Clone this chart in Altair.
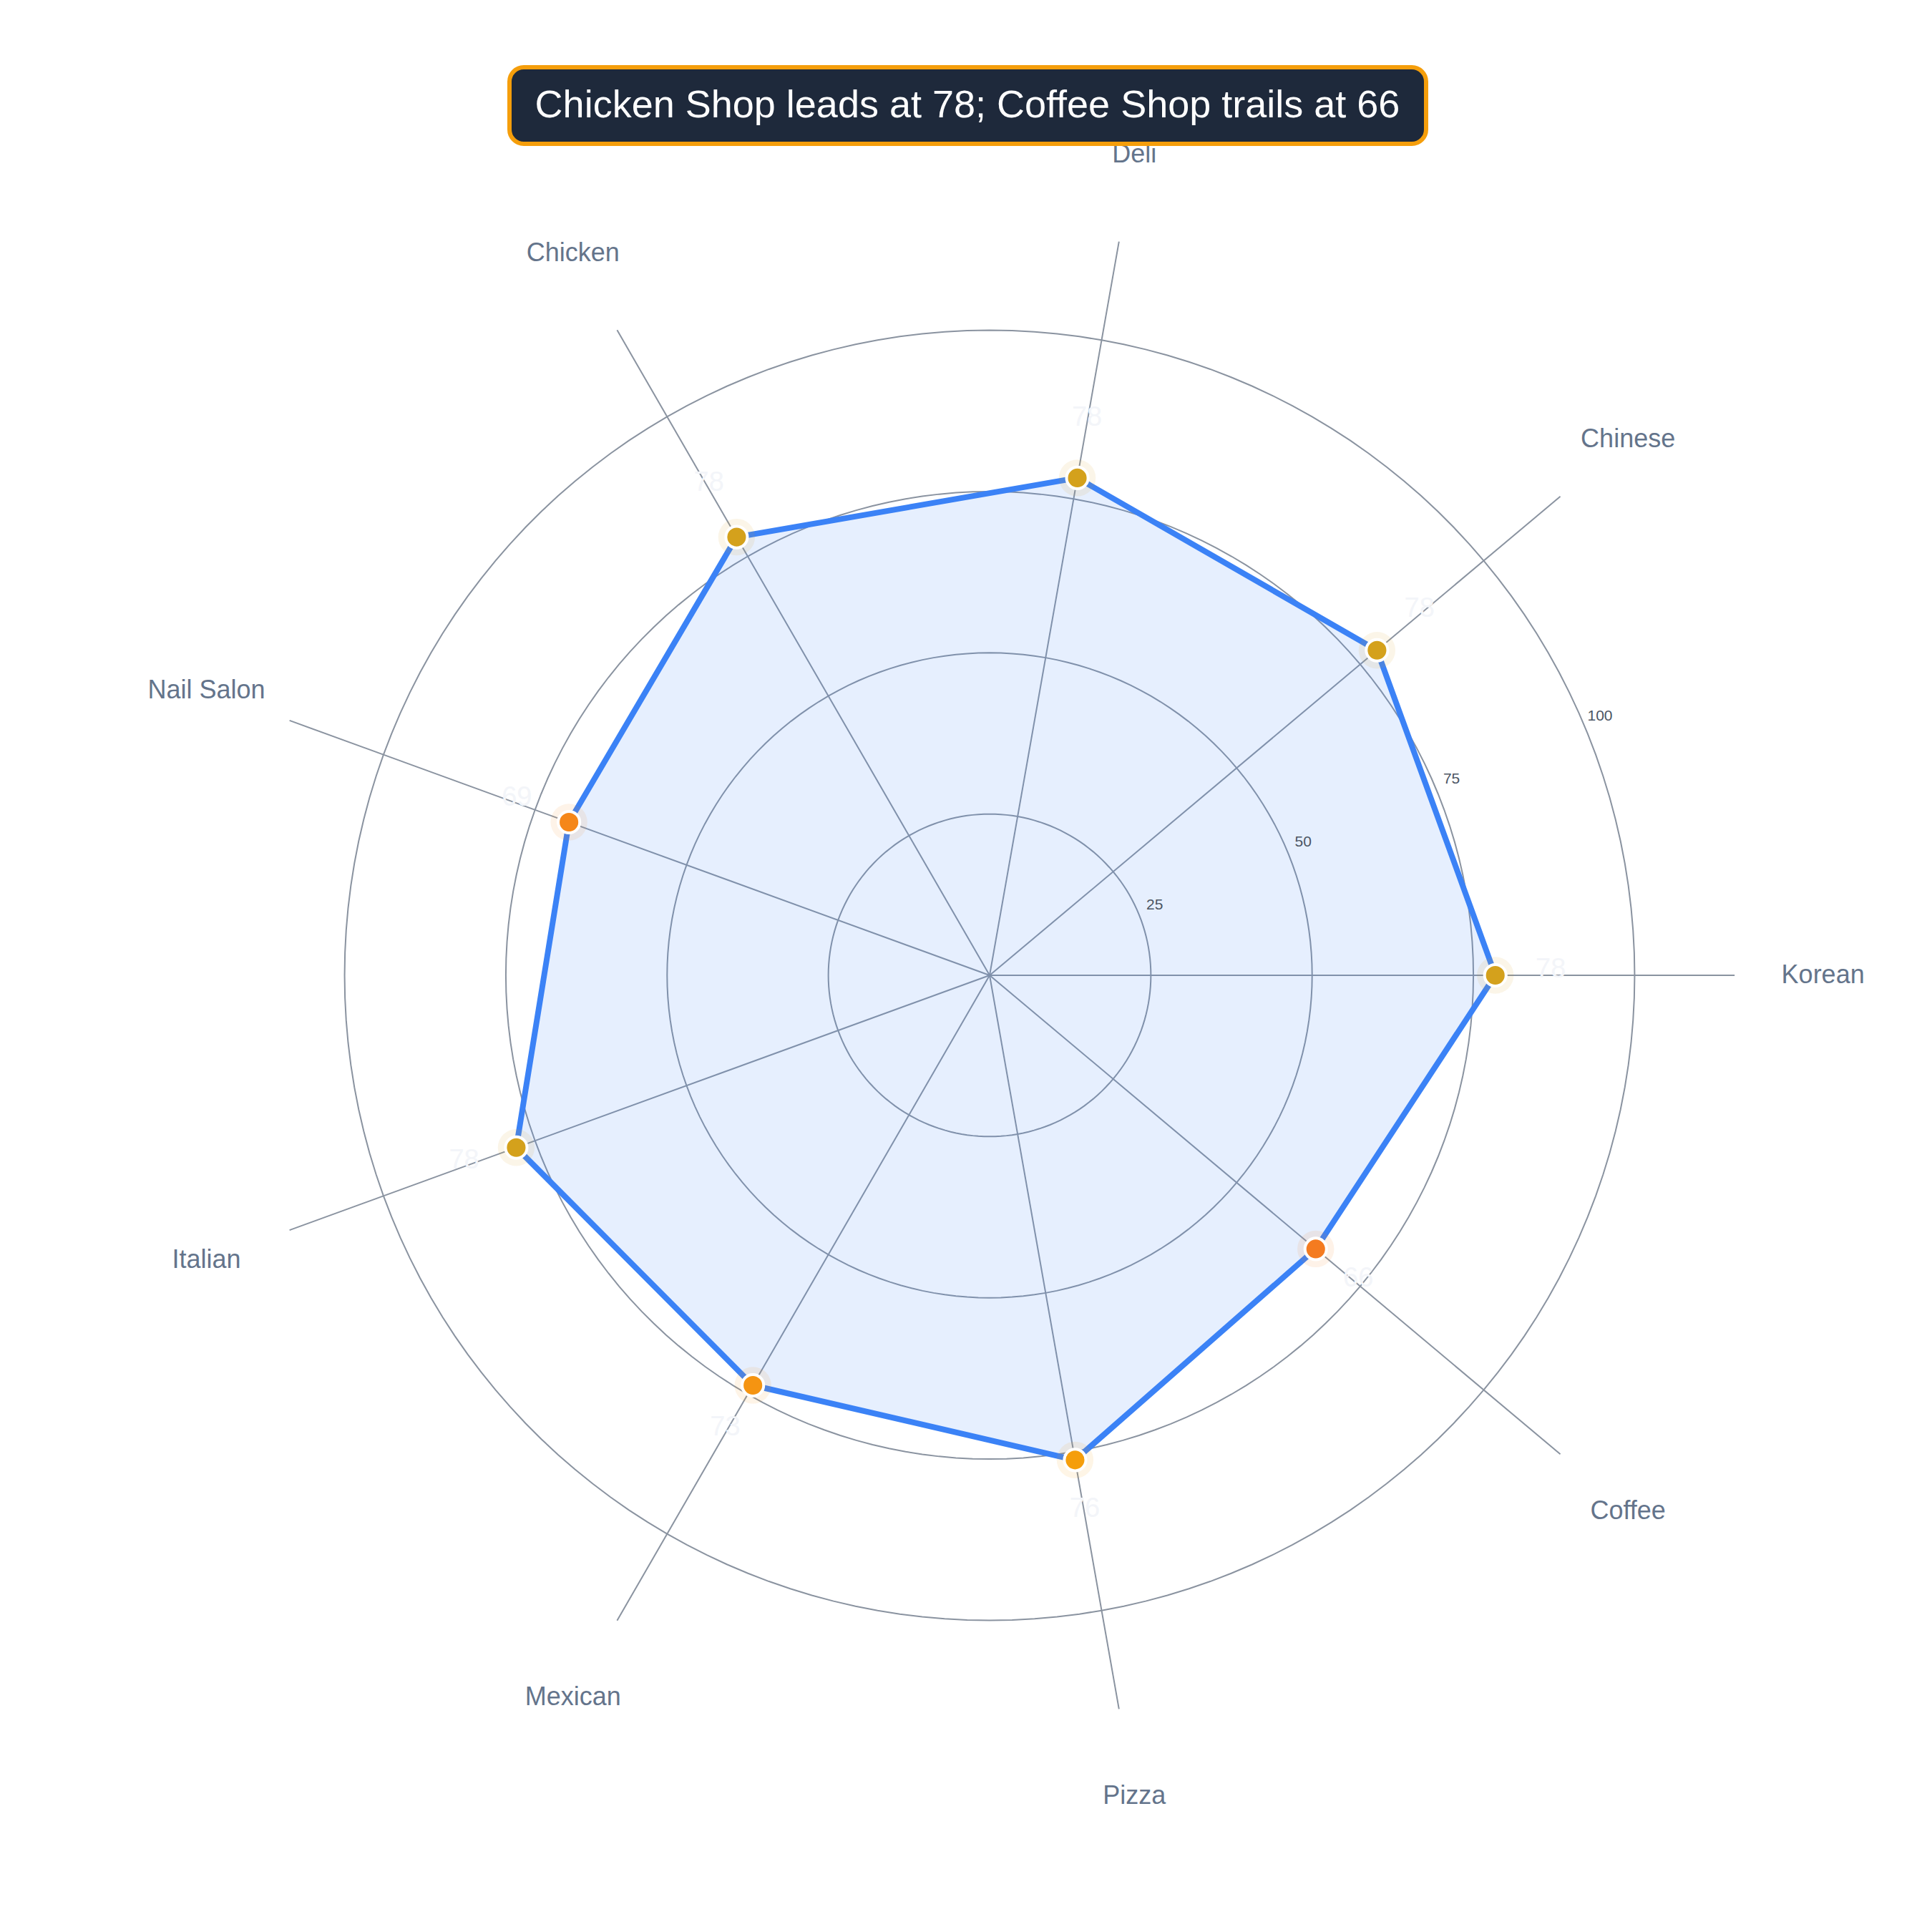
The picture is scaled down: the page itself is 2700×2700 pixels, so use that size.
import math
import altair as alt
import pandas as pd

# ---- data ----
CATEGORIES = ["Korean", "Chinese", "Deli", "Chicken", "Nail Salon",
              "Italian", "Mexican", "Pizza", "Coffee"]
VALUES = [78.4, 78.4, 78.3, 78.45, 69.4, 78.1, 73.4, 76.3, 66.0]
TICKS = [25, 50, 75, 100]
TITLE = "Chicken Shop leads at 78; Coffee Shop trails at 66"

FONT = "Liberation Sans"
H = 140          # half extent of the square domain
SIZE = 2524      # plot area side

pts = pd.DataFrame({"category": CATEGORIES, "value": VALUES,
                    "idx": list(range(len(CATEGORIES)))})
n = len(CATEGORIES)
grid_df = pd.DataFrame([{"ring": r, "deg": d} for r in TICKS for d in range(0, 361, 2)])
tick_df = pd.DataFrame({"tick": TICKS})

xs = alt.Scale(domain=[-H, H], nice=False, zero=False)
ys = alt.Scale(domain=[-H, H], nice=False, zero=False)


def X(f):
    return alt.X(f, type="quantitative", scale=xs, axis=None)


def Y(f):
    return alt.Y(f, type="quantitative", scale=ys, axis=None)


base = alt.Chart(pts).transform_calculate(
    ang=f"datum.idx * 2 * PI / {n}",
    x="datum.value * cos(datum.ang)",
    y="datum.value * sin(datum.ang)",
)

COLOR = alt.Color("value:Q", legend=None,
                  scale=alt.Scale(domain=[66, 76.3, 78.1],
                                  range=["#f47b20", "#f59e0b", "#d4a11c"],
                                  clamp=True))

grid = alt.Chart(grid_df).transform_calculate(
    x="datum.ring * cos(datum.deg * PI / 180)",
    y="datum.ring * sin(datum.deg * PI / 180)",
).mark_line(stroke="#8a93a0", strokeWidth=2).encode(
    x=X("x"), y=Y("y"), detail="ring:N", order="deg:Q"
)

spokes = base.transform_calculate(
    x0="0", y0="0",
    xe="115.5 * cos(datum.ang)", ye="115.5 * sin(datum.ang)",
).mark_rule(stroke="#8a93a0", strokeWidth=2).encode(
    x=X("x0"), y=Y("y0"), x2="xe:Q", y2="ye:Q"
)

poly = base.mark_line(
    interpolate="linear-closed", stroke="#3b82f6", strokeWidth=8,
    fill="#3b82f6", fillOpacity=0.13, strokeJoin="miter"
).encode(x=X("x"), y=Y("y"), order="idx:Q")

halo = base.mark_circle(size=2640, opacity=0.1).encode(
    x=X("x"), y=Y("y"), color=COLOR)

points = base.mark_circle(size=908, opacity=1, stroke="white",
                          strokeWidth=4).encode(
    x=X("x"), y=Y("y"), color=COLOR)

value_labels = base.transform_calculate(
    lx="(datum.value + 8.6) * cos(datum.ang)",
    ly="(datum.value + 8.6) * sin(datum.ang)",
    lab="format(datum.value, '.0f')",
).mark_text(fontSize=38, color="#f3f5f9", dy=-8, font=FONT,
            align="center", baseline="middle").encode(
    x=X("lx"), y=Y("ly"), text="lab:N")

cat_labels = base.transform_calculate(
    cx="129.2 * cos(datum.ang)",
    cy="129.2 * sin(datum.ang)",
).mark_text(fontSize=36, color="#64748b", font=FONT,
            align="center", baseline="middle").encode(
    x=X("cx"), y=Y("cy"), text="category:N")

tick_labels = alt.Chart(tick_df).transform_calculate(
    tx="(datum.tick + 2.8) * cos(23 * PI / 180)",
    ty="(datum.tick + 2.8) * sin(23 * PI / 180)",
).mark_text(fontSize=21, color="#4b5563", font=FONT,
            align="center", baseline="middle").encode(
    x=X("tx"), y=Y("ty"), text="tick:N")

title_df = pd.DataFrame({"title": [TITLE]})
title_box = alt.Chart(title_df).mark_rect(
    fill="#1e293b", stroke="#f59e0b", strokeWidth=6, cornerRadius=20
).encode(x=alt.value(591), x2=alt.value(1872), y=alt.value(-7), y2=alt.value(100))
title_text = alt.Chart(title_df).mark_text(
    fontSize=54, color="#ffffff", font=FONT, align="center", baseline="middle"
).encode(x=alt.value(1231), y=alt.value(47), text="title:N")

chart = alt.layer(
    grid, spokes, poly, halo, points, value_labels, cat_labels,
    tick_labels, title_box, title_text
).properties(
    width=SIZE, height=SIZE,
    background="white",
    padding={"left": 113, "top": 93, "right": 10, "bottom": 10},
    autosize=alt.AutoSizeParams(type="none"),
).configure_view(stroke="transparent", strokeWidth=0)

chart.save("out.html", embed_options={"renderer": "svg", "actions": False})
